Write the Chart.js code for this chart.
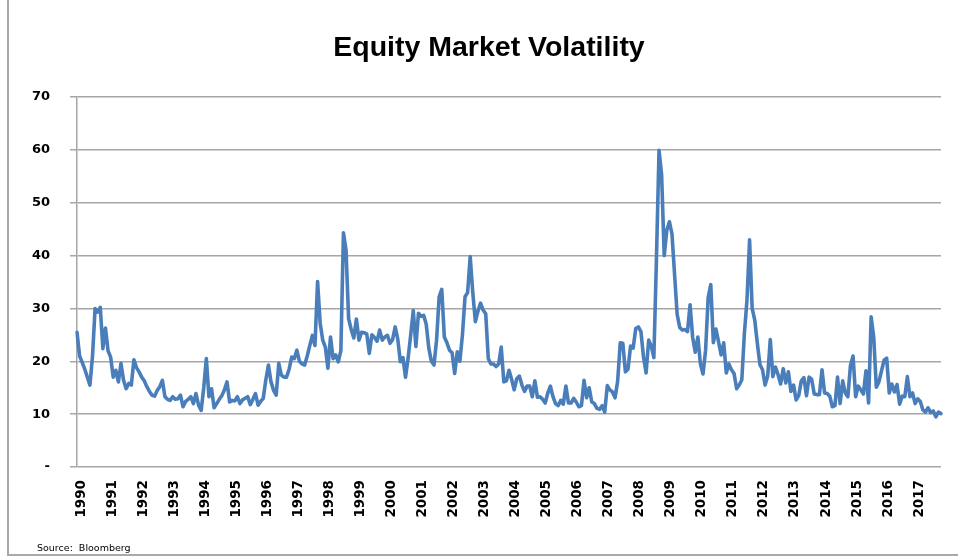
<!DOCTYPE html>
<html>
<head>
<meta charset="utf-8">
<script src="https://cdn.jsdelivr.net/npm/chart.js@4.4.1/dist/chart.umd.min.js"></script>
<style>
  html, body { margin: 0; padding: 0; background: #ffffff; }
  #wrap { position: relative; width: 958px; height: 559px; overflow: hidden; }
  #c { position: absolute; left: 0; top: 0; }
  #frame { position: absolute; left: 7px; top: -2px; width: 960px; height: 558px;
           border-left: 2px solid #a9a9a9; border-bottom: 2px solid #a9a9a9; box-sizing: border-box; pointer-events: none; }
  #title { position: absolute; left: 289px; width: 400px; top: 29px; text-align: center;
           font-family: "Liberation Sans", Arial, sans-serif; font-weight: bold; font-size: 28.5px; line-height: 34px; color: #000; white-space: nowrap; }
  #source { position: absolute; left: 37px; top: 542px; font-family: "DejaVu Sans", sans-serif; font-size: 9.5px; color: #000; }
</style>
</head>
<body>
<div id="wrap">
  <canvas id="c" width="958" height="559"></canvas>
  <div id="frame"></div>
  <div id="title">Equity Market Volatility</div>
  <div id="source">Source:&nbsp; Bloomberg</div>
</div>
<script>
// ---- Data (monthly, Jan 1990 - Nov 2017) ----
const years = [1990,1991,1992,1993,1994,1995,1996,1997,1998,1999,2000,2001,2002,2003,
               2004,2005,2006,2007,2008,2009,2010,2011,2012,2013,2014,2015,2016,2017];

const vix1990s = [
  25.5,21.0,19.8,18.5,17.0,15.5,21.0,30.0,29.3,30.2,22.4,26.3,   // 1990
  22.0,20.8,17.0,18.3,16.1,19.6,16.4,14.8,15.8,15.5,20.3,18.8,   // 1991
  18.0,17.0,16.3,15.2,14.3,13.6,13.4,14.5,15.2,16.4,13.3,12.8,   // 1992
  12.6,13.3,12.8,12.9,13.6,11.4,12.4,12.8,13.3,12.0,13.9,11.7,   // 1993
  10.7,15.0,20.5,13.3,14.8,11.2,12.0,12.8,13.5,14.6,16.1,12.3,   // 1994
  12.6,12.5,13.3,12.0,12.7,13.0,13.3,11.8,12.8,13.9,11.7,12.4,   // 1995
  13.0,16.5,19.3,16.1,14.5,13.6,19.6,17.4,17.0,17.0,18.5,20.8,   // 1996
  20.5,22.1,20.0,19.5,19.3,21.0,23.0,24.9,23.0,35.1,27.2,24.0,   // 1997
  22.7,18.7,24.6,20.5,21.2,19.9,22.0,44.3,41.0,28.1,26.0,24.4,   // 1998
  28.0,24.0,25.5,25.4,25.2,21.5,25.0,24.5,23.8,25.9,24.0,24.6    // 1999
];
const vix2000s = [
  24.9,23.4,24.1,26.5,24.2,19.9,20.7,17.0,20.6,25.0,29.6,22.8,   // 2000
  29.1,28.5,28.7,27.0,22.5,20.0,19.3,24.0,32.2,33.6,24.6,23.5,   // 2001
  22.1,21.6,17.7,21.8,20.0,25.0,32.2,33.0,39.8,33.0,27.5,29.5,   // 2002
  31.0,29.7,29.0,20.5,19.5,19.5,19.0,19.5,22.7,16.1,16.3,18.3,   // 2003
  16.6,14.6,16.7,17.2,15.5,14.3,15.3,15.3,13.3,16.3,13.2,13.3,   // 2004
  12.8,12.1,14.0,15.3,13.3,12.0,11.6,12.6,11.9,15.3,12.1,12.1,   // 2005
  13.0,12.3,11.4,11.6,16.4,13.1,15.0,12.3,12.0,11.1,10.9,11.6,   // 2006
  10.4,15.4,14.6,14.2,13.1,16.2,23.5,23.4,18.0,18.5,22.9,22.5,   // 2007
  26.2,26.5,25.6,20.8,17.8,24.0,22.9,20.7,39.4,59.9,55.3,40.0,   // 2008
  44.8,46.4,44.1,36.5,28.9,26.4,25.9,26.0,25.6,30.7,24.5,21.7    // 2009
];
const vix2010s = [
  24.6,19.5,17.6,22.1,32.1,34.5,23.5,26.1,23.7,21.2,23.5,17.8,   // 2010
  19.5,18.4,17.7,14.8,15.5,16.5,25.3,31.6,43.0,30.0,27.8,23.4,   // 2011
  19.4,18.4,15.5,17.2,24.1,17.1,18.9,17.5,15.7,18.6,15.9,18.0,   // 2012
  14.3,15.5,12.7,13.5,16.3,16.9,13.5,17.0,16.6,13.8,13.7,13.7,   // 2013
  18.4,14.0,13.9,13.4,11.4,11.6,17.0,12.0,16.3,14.0,13.3,19.2,   // 2014
  21.0,13.3,15.3,14.6,13.8,18.2,12.1,28.4,24.5,15.1,16.1,18.2,   // 2015
  20.2,20.6,14.0,15.7,14.2,15.6,11.9,13.4,13.3,17.1,13.3,14.0,   // 2016
  12.0,12.9,12.4,10.8,10.4,11.2,10.3,10.6,9.5,10.4,10.1          // 2017 (Jan-Nov)
];
const yTicks = [0,10,20,30,40,50,60,70];

// ---- Build series / categories ----
const volatility = vix1990s.concat(vix2000s, vix2010s);
const monthNames = ['01','02','03','04','05','06','07','08','09','10','11','12'];
const categories = [];
years.forEach(y => monthNames.forEach(m => categories.push(y + '-' + m)));
categories.length = volatility.length;

new Chart(document.getElementById('c'), {
  type: 'line',
  data: {
    labels: categories,
    datasets: [{
      label: 'Equity Market Volatility',
      data: volatility,
      borderColor: '#4a7ebb',
      borderWidth: 3.6,
      pointRadius: 0,
      tension: 0,
      fill: false,
      borderJoinStyle: 'round',
      borderCapStyle: 'round'
    }]
  },
  options: {
    responsive: false,
    animation: false,
    layout: { padding: { left: 0, right: 17, top: 97, bottom: 0 } },
    plugins: {
      legend: { display: false },
      tooltip: { enabled: false },
      title: { display: false }
    },
    scales: {
      x: {
        type: 'category',
        grid: { display: false, drawTicks: false },
        border: { display: false },
        ticks: {
          autoSkip: false,
          minRotation: 90,
          maxRotation: 90,
          padding: 13,
          labelOffset: 4,
          color: '#000000',
          font: { family: '"DejaVu Sans", sans-serif', size: 13.5, weight: 'bold' },
          callback: function (value, index) {
            return index % 12 === 0 ? String(years[index / 12]) : '';
          }
        },
        afterFit: function (scale) {
          scale.height = 92;
          scale.paddingLeft = 0;
          scale.paddingRight = 0;
        }
      },
      y: {
        min: 0,
        max: 70,
        afterBuildTicks: function (scale) { scale.ticks = yTicks.map(v => ({ value: v })); },
        grid: { color: '#a6a6a6', lineWidth: 1.5, drawTicks: true, tickLength: 7, tickColor: '#a6a6a6' },
        border: { display: true, color: '#a6a6a6', width: 1.5 },
        ticks: {
          padding: 20,
          color: '#000000',
          font: { family: '"DejaVu Sans", sans-serif', size: 13, weight: 'bold' },
          callback: function (value) { return value === 0 ? '-' : String(value); }
        },
        afterFit: function (scale) {
          scale.width = 77;
          scale.paddingTop = 0;
          scale.paddingBottom = 0;
        }
      }
    }
  }
});
</script>
</body>
</html>
